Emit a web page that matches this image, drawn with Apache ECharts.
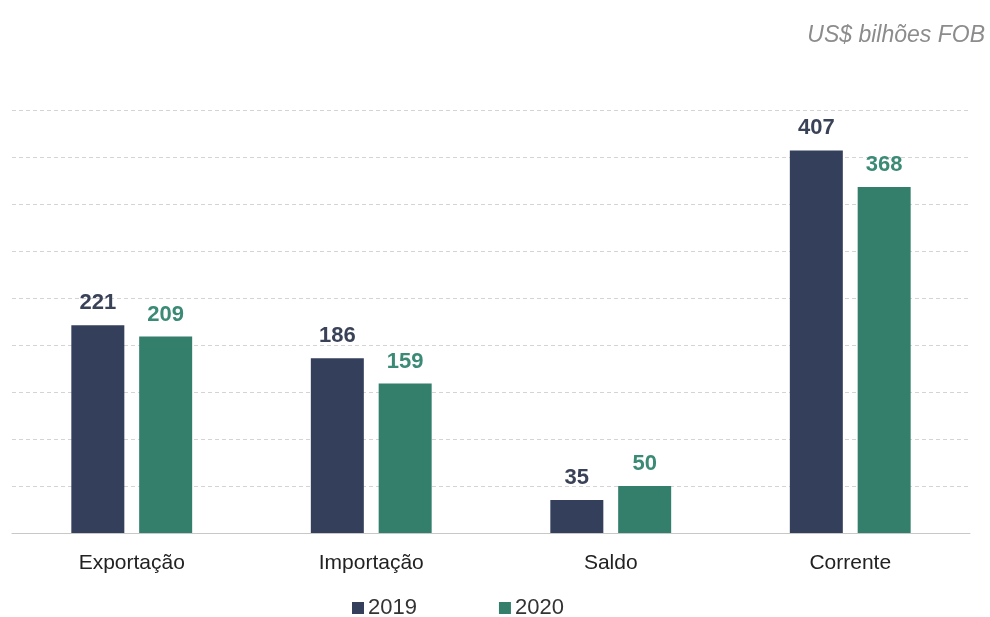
<!DOCTYPE html>
<html><head><meta charset="utf-8">
<script src="https://cdn.jsdelivr.net/npm/echarts@6/dist/echarts.min.js"></script>
<style>html,body{margin:0;padding:0;background:#fff}#c{width:990px;height:617px}</style>
</head><body><div id="c"></div>
<script>
const categories = ['Exportação', 'Importação', 'Saldo', 'Corrente'];
const series2019 = [221, 186, 35, 407];
const series2020 = [209, 159, 50, 368];
const seriesNames = ['2019', '2020'];
const unitLabel = 'US$ bilhões FOB';

const chart = echarts.init(document.getElementById('c'));
const font = 'Liberation Sans, Arial, sans-serif';
chart.setOption({
  animation: false,
  textStyle: { fontFamily: font },
  title: {
    text: unitLabel, right: 0, top: 19,
    textStyle: { fontStyle: 'italic', fontWeight: 'normal', fontSize: 23, color: '#8c8c8c', fontFamily: font }
  },
  legend: {
    data: seriesNames, top: 592, left: 347, itemGap: 82,
    itemWidth: 12, itemHeight: 12, icon: 'rect',
    textStyle: { fontSize: 22, color: '#333', fontFamily: font, padding: [0, 0, 0, -1] }
  },
  grid: { left: 12, right: 20, top: 110, bottom: 84, containLabel: false },
  xAxis: {
    type: 'category', data: categories,
    axisLine: { lineStyle: { color: '#c8c8c8', width: 1 } },
    axisTick: { show: false },
    axisLabel: { fontSize: 21, color: '#222', margin: 20, fontFamily: font }
  },
  yAxis: {
    type: 'value', min: 0, max: 450, interval: 50,
    axisLabel: { show: false }, axisLine: { show: false }, axisTick: { show: false },
    splitLine: { lineStyle: { type: [4, 3], color: '#d4d4d4', width: 1 } }
  },
  series: [
    {
      name: seriesNames[0], type: 'bar', data: series2019, barWidth: 53, barGap: '28%',
      itemStyle: { color: '#343f5b' },
      label: { show: true, position: 'top', distance: 11, fontSize: 22, fontWeight: 'bold', color: '#3a4258', fontFamily: font }
    },
    {
      name: seriesNames[1], type: 'bar', data: series2020, barWidth: 53,
      itemStyle: { color: '#337f6b' },
      label: { show: true, position: 'top', distance: 11, fontSize: 22, fontWeight: 'bold', color: '#3a8a76', fontFamily: font }
    }
  ]
});
</script></body></html>
